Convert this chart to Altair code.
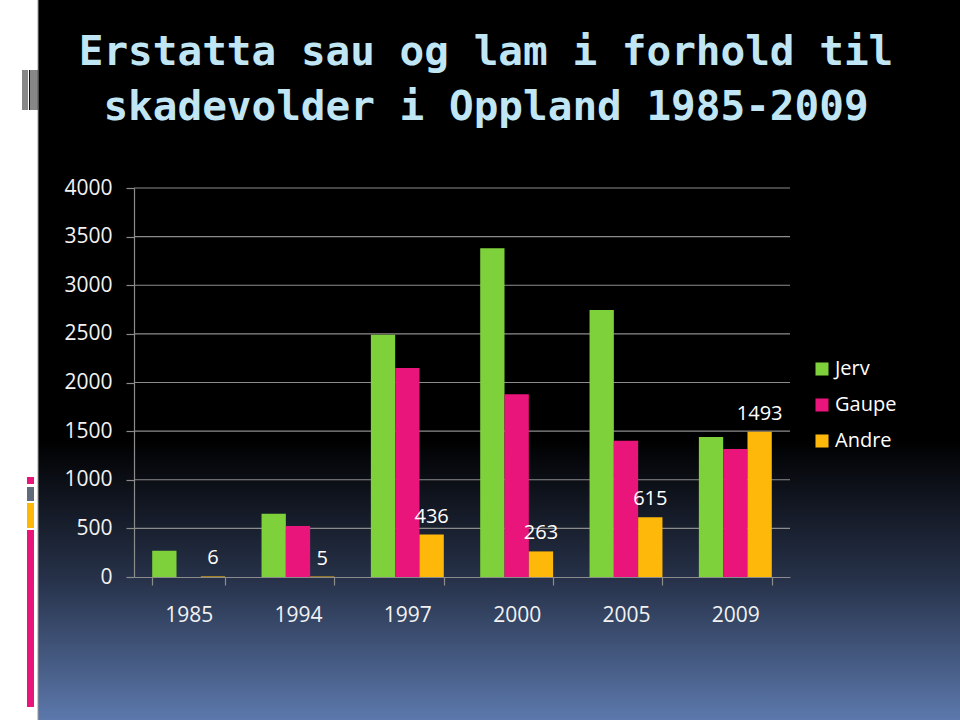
import altair as alt
import pandas as pd

title_lines = ["Erstatta sau og lam i forhold til", "skadevolder i Oppland 1985-2009"]
years = ["1985", "1994", "1997", "2000", "2005", "2009"]
series = ["Jerv", "Gaupe", "Andre"]
jerv = [270, 650, 2490, 3380, 2745, 1440]
gaupe = [None, 525, 2150, 1880, 1400, 1315]
andre = [6, 5, 436, 263, 615, 1493]
y_ticks = [0, 500, 1000, 1500, 2000, 2500, 3000, 3500, 4000]
colors = ["#7FD13B", "#EA157A", "#FEB80A"]

rows = []
for i, y in enumerate(years):
    for s, vals in zip(series, [jerv, gaupe, andre]):
        if vals[i] is not None:
            rows.append({"year": y, "series": s, "value": vals[i]})
df = pd.DataFrame(rows)
grid_df = pd.DataFrame({"value": y_ticks[1:]})

W, H = 656, 389
LEFT, TOP = 134, 188

one = pd.DataFrame({"k": [0]})

bg = alt.Chart(one).mark_rect(
    fill=alt.LinearGradient(
        gradient="linear", x1=0, x2=0, y1=0, y2=1,
        stops=[alt.GradientStop(offset=0, color="#000000"),
               alt.GradientStop(offset=0.61, color="#000000"),
               alt.GradientStop(offset=0.806, color="#27324A"),
               alt.GradientStop(offset=1, color="#5C78AC")]),
).encode(x=alt.value(38 - LEFT), x2=alt.value(960 - LEFT),
         y=alt.value(-TOP), y2=alt.value(720 - TOP))

edge = alt.Chart(one).mark_rule(color="#9a9a9a", strokeWidth=1).encode(
    x=alt.value(38 - LEFT), y=alt.value(-TOP), y2=alt.value(720 - TOP))

deco_layers = []
for bx in [23, 25, 27, 29.5, 31, 33, 35, 37]:
    deco_layers.append(alt.Chart(one).mark_rule(color="#111111", strokeWidth=1).encode(
        x=alt.value(bx - LEFT), y=alt.value(70 - TOP), y2=alt.value(110 - TOP)))
for (y1, y2, c) in [(477, 484, "#EA157A"), (487, 501, "#5F6B7A"),
                    (503, 528, "#FEB80A"), (530, 707, "#EA157A")]:
    deco_layers.append(alt.Chart(one).mark_rect(color=c).encode(
        x=alt.value(27 - LEFT), x2=alt.value(34 - LEFT),
        y=alt.value(y1 - TOP), y2=alt.value(y2 - TOP)))

title_layers = []
for i, line in enumerate(title_lines):
    title_layers.append(alt.Chart(one).mark_text(
        text=line, font="DejaVu Sans Mono", fontSize=41, fontWeight="bold",
        color="#C0E6F5", align="center", baseline="alphabetic",
    ).encode(x=alt.value(486 - LEFT), y=alt.value(65 + 55 * i - TOP)))

y_scale = alt.Scale(domain=[0, 4000], nice=False)
y_axis = alt.Axis(values=y_ticks, format="d", labelColor="#f2f2f2",
                  labelFont="Open Sans", labelFontSize=21, labelPadding=14,
                  tickSize=8, tickColor="#8c8c8c", domainColor="#8c8c8c",
                  grid=False, domainWidth=1.2, tickWidth=1.2, zindex=1)

grid = alt.Chart(grid_df).mark_rule(color="#8c8c8c", strokeWidth=1.2).encode(
    y=alt.Y("value:Q", title=None, scale=y_scale, axis=y_axis),
)

base = alt.Chart(df)

bars = base.mark_bar().encode(
    x=alt.X("year:N", sort=years, title=None,
            scale=alt.Scale(paddingInner=0.333, paddingOuter=0.1665),
            axis=alt.Axis(labelAngle=0, labelColor="#f2f2f2", labelFont="Open Sans",
                          labelFontSize=21, labelPadding=19, tickBand="extent",
                          tickSize=8, tickColor="#8c8c8c", domainColor="#8c8c8c",
                          domainWidth=1.2, tickWidth=1.2, zindex=1)),
    xOffset=alt.XOffset("series:N", sort=series, scale=alt.Scale(paddingInner=0, paddingOuter=0)),
    y=alt.Y("value:Q", title=None, scale=y_scale, axis=y_axis),
    color=alt.Color("series:N", sort=series,
                    scale=alt.Scale(domain=series, range=colors),
                    legend=alt.Legend(title=None, orient="none", legendX=678, legendY=171,
                                      symbolType="square", symbolSize=170,
                                      symbolStrokeWidth=0, labelColor="#ffffff",
                                      labelFont="Open Sans", labelFontSize=20,
                                      labelOffset=3, rowPadding=16)),
)

labels = base.transform_filter(alt.datum.series == "Andre").mark_text(
    color="#ffffff", font="Open Sans", fontSize=20, baseline="middle", dy=-18
).encode(
    x=alt.X("year:N", sort=years),
    xOffset=alt.XOffset("series:N", sort=series),
    y=alt.Y("value:Q", scale=y_scale),
    text="value:Q",
)

chart = alt.layer(bg, edge, *deco_layers, *title_layers, grid, bars, labels).properties(
    width=W, height=H,
).configure(
    autosize=alt.AutoSizeParams(type="none"),
    padding={"left": LEFT, "top": TOP, "right": 960 - LEFT - W, "bottom": 720 - TOP - H},
    background="#ffffff",
).configure_view(stroke=None)

chart.save("out.html", embed_options={"renderer": "svg", "actions": False})
